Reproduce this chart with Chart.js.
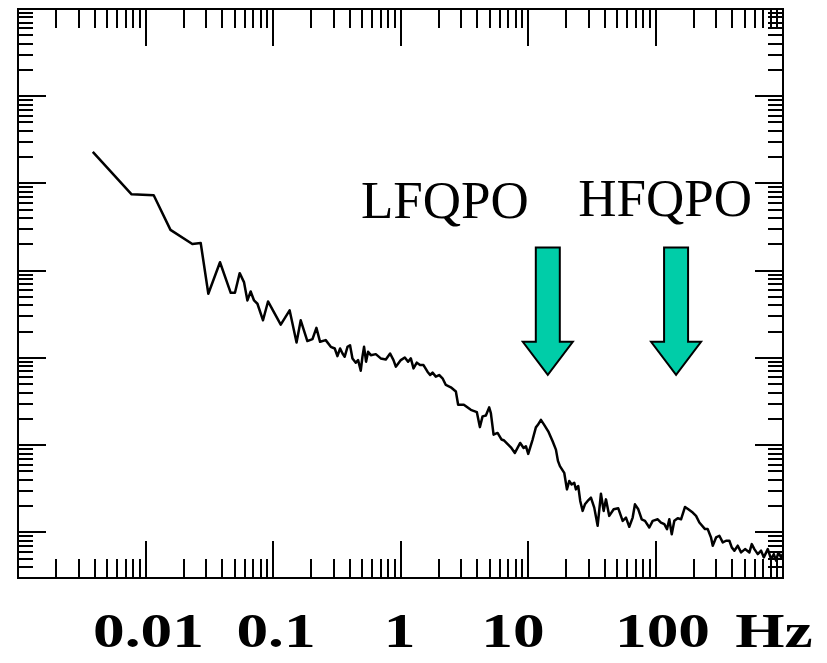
<!DOCTYPE html>
<html>
<head>
<meta charset="utf-8">
<title>Power density spectrum</title>
<script src="https://cdn.jsdelivr.net/npm/chart.js@4.4.1/dist/chart.umd.min.js"></script>
<style>
  html, body { margin: 0; padding: 0; background: #ffffff; }
  #wrap { width: 827px; height: 663px; }
</style>
</head>
<body>
<div id="wrap"><canvas id="psd" width="827" height="663"></canvas></div>
<script>
// Frequency (Hz) of each sample of the power spectrum
const freq = [
  0.00386, 0.00778, 0.0116, 0.0157, 0.0233, 0.0271, 0.0311, 0.0384, 0.0466, 0.0503,
  0.0548, 0.0592, 0.0630, 0.0668, 0.0710, 0.0755, 0.0835, 0.0914, 0.115, 0.135,
  0.153, 0.165, 0.186, 0.204, 0.219, 0.234, 0.259,
  0.284, 0.305, 0.320, 0.336, 0.351, 0.365, 0.384, 0.402, 0.420, 0.446,
  0.465, 0.488, 0.503, 0.518, 0.537, 0.557, 0.585, 0.640, 0.700, 0.767,
  0.829, 0.881, 0.919, 1.006, 1.081, 1.147, 1.205, 1.265, 1.342, 1.425,
  1.515, 1.628, 1.708, 1.784, 1.893, 2.009, 2.136, 2.268, 2.482, 2.718,
  2.832, 3.14, 3.562, 3.972, 4.193, 4.402, 4.673, 4.960, 5.114, 5.370,
  5.772, 6.205, 6.505, 7.341, 7.891, 8.686, 9.237, 9.627, 10.04, 10.87,
  11.53, 11.96, 12.63, 13.40, 14.41, 15.60, 16.56, 17.17, 17.80, 19.24,
  20.20, 21.06, 21.99, 23.05, 23.77, 24.77, 25.68, 26.83, 27.96, 29.36,
  31.16, 33.08, 35.17, 37.34, 39.20, 40.88, 43.38, 46.98, 51.05, 55.27,
  58.67, 62.27, 66.22, 69.03, 73.28, 77.93, 82.72, 89.41, 95.06, 104.1,
  110.4, 117.3, 123.1, 128.3, 134.1, 140.5, 149.4, 158.6, 170.4, 180.9,
  195.9, 208.0, 220.8,
  244.6, 256.8, 272.6, 281.2, 298.5, 316.8, 336.9, 357.6, 379.6, 396.4,
  415.5, 441.8, 469.0, 504.0, 544.9, 569.0, 596.4, 634.2, 673.2, 706.9,
  759.8, 806.6, 847.0, 882.9, 920.4, 966.3, 996.3
];

// Power density at each frequency (arbitrary units)
const power = [
  23.05, 7.51, 7.32, 2.94, 2.02, 2.08, 0.544, 1.25, 0.558, 0.558,
  0.937, 0.740, 0.456, 0.578, 0.456, 0.418, 0.270, 0.444, 0.241, 0.351,
  0.150, 0.270, 0.156, 0.164, 0.221, 0.153, 0.160,
  0.1341, 0.1283, 0.1048, 0.1283, 0.1125, 0.1032, 0.1341, 0.1399, 0.0987, 0.0882,
  0.0944, 0.0714, 0.1032, 0.1341, 0.0905, 0.1177, 0.1076, 0.1105, 0.0987, 0.0961,
  0.1125, 0.0944, 0.0794, 0.0944, 0.1013, 0.0905, 0.0987, 0.0759, 0.0882, 0.0828,
  0.0828, 0.0696, 0.0637, 0.0678, 0.0610, 0.0637, 0.0584, 0.0490, 0.0461, 0.0412,
  0.0290, 0.0290, 0.0254, 0.0239, 0.0161, 0.0214, 0.0219, 0.0271, 0.0233, 0.0132,
  0.0138, 0.0116, 0.0113, 0.00946, 0.00815, 0.0106, 0.00929, 0.00972, 0.00794, 0.0116,
  0.0160, 0.0171, 0.0195, 0.0171, 0.0144, 0.0111, 0.00889, 0.00660, 0.00575, 0.00482,
  0.003110, 0.003877, 0.003545, 0.003707, 0.003110, 0.003399, 0.002293, 0.001763, 0.002097, 0.002293,
  0.002500, 0.001923, 0.001190, 0.002777, 0.001763, 0.002391, 0.001546, 0.001839, 0.001888, 0.001356,
  0.001479, 0.001159, 0.001479, 0.002097, 0.001839, 0.001414, 0.001356, 0.001138, 0.001356, 0.001414,
  0.001297, 0.001241, 0.001088, 0.001414, 0.000954, 0.001356, 0.001452, 0.001414, 0.001958, 0.001839,
  0.001686, 0.001546, 0.001297,
  0.00109, 0.00109, 0.000875, 0.000704, 0.000875, 0.000915, 0.000767, 0.000802, 0.000802, 0.000673,
  0.000617, 0.000704, 0.000590, 0.000643, 0.000590, 0.000734, 0.000643, 0.000564, 0.000617, 0.000517,
  0.000643, 0.000495, 0.000564, 0.000474, 0.000590, 0.000517, 0.000564
];

// Axis ranges
const freqRange = [0.001, 1000];
const powerRange = [0.000324, 1000];

// Frequency tick labels along the bottom
const xTickValues = [0.01, 0.1, 1, 10, 100];
const xTickText = ['0.01', '0.1', '1', '10', '100'];
const unitText = 'Hz';

// Quasi-periodic oscillations marked with arrows
const qpoNames = ['LFQPO', 'HFQPO'];
const qpoFreq = [14.3, 145];

const serif = '"Liberation Serif", "Times New Roman", Times, serif';

// Draws the boxed frame with inward log ticks on all four sides,
// the bold frequency labels, and the QPO arrows with their names.
const spectrumDecor = {
  id: 'spectrumDecor',
  afterDraw(chart, args, opts) {
    const { ctx, chartArea: a } = chart;
    const xs = chart.scales.x, ys = chart.scales.y;
    ctx.save();
    ctx.strokeStyle = '#000';
    ctx.lineWidth = 2;
    ctx.lineCap = 'butt';

    // frame
    ctx.strokeRect(Math.round(a.left), Math.round(a.top),
                   Math.round(a.right - a.left), Math.round(a.bottom - a.top));

    // frequency ticks, bottom and top
    ctx.beginPath();
    for (let d = -3; d <= 3; d++) {
      for (let m = 1; m <= 9; m++) {
        const v = m * Math.pow(10, d);
        if (v < freqRange[0] * 0.999 || v > freqRange[1] * 1.001) continue;
        const px = Math.round(xs.getPixelForValue(v));
        const len = m === 1 ? opts.xMajor : opts.xMinor;
        ctx.moveTo(px, a.bottom); ctx.lineTo(px, a.bottom - len);
        ctx.moveTo(px, a.top);    ctx.lineTo(px, a.top + len);
      }
    }
    // power ticks, left and right
    for (let d = -4; d <= 3; d++) {
      for (let m = 1; m <= 9; m++) {
        const v = m * Math.pow(10, d);
        if (v < powerRange[0] || v > powerRange[1] * 1.001) continue;
        const py = Math.round(ys.getPixelForValue(v));
        const len = m === 1 ? opts.yMajor : opts.yMinor;
        ctx.moveTo(a.left, py);  ctx.lineTo(a.left + len, py);
        ctx.moveTo(a.right, py); ctx.lineTo(a.right - len, py);
      }
    }
    ctx.stroke();

    // bold frequency labels under the axis, drawn wide
    ctx.fillStyle = '#000';
    ctx.font = 'bold 48px ' + serif;
    ctx.textAlign = 'center';
    ctx.textBaseline = 'alphabetic';
    const base = a.bottom + opts.labelDrop;
    const drawWide = (txt, x) => {
      ctx.save();
      ctx.translate(x, base);
      ctx.scale(opts.labelStretch, 1);
      ctx.fillText(txt, 0, 0);
      ctx.restore();
    };
    xTickValues.forEach((v, i) => {
      drawWide(xTickText[i], xs.getPixelForValue(v) + opts.labelNudge[i]);
    });
    drawWide(unitText, a.right + opts.unitNudge);

    // QPO arrows
    qpoFreq.forEach((f) => {
      const cx = xs.getPixelForValue(f);
      const top = ys.getPixelForValue(opts.arrowTop);
      const tip = ys.getPixelForValue(opts.arrowTip);
      const hb = tip - opts.headLen;
      const sw = opts.shaftHalf, hw = opts.headHalf;
      ctx.beginPath();
      ctx.moveTo(cx - sw, top);
      ctx.lineTo(cx + sw, top);
      ctx.lineTo(cx + sw, hb);
      ctx.lineTo(cx + hw, hb);
      ctx.lineTo(cx, tip);
      ctx.lineTo(cx - hw, hb);
      ctx.lineTo(cx - sw, hb);
      ctx.closePath();
      ctx.fillStyle = opts.arrowColor;
      ctx.fill();
      ctx.lineWidth = 2;
      ctx.lineJoin = 'miter';
      ctx.strokeStyle = '#000';
      ctx.stroke();
    });

    // QPO names
    ctx.fillStyle = '#000';
    ctx.font = '53px ' + serif;
    ctx.textAlign = 'center';
    qpoNames.forEach((name, i) => {
      ctx.fillText(name, xs.getPixelForValue(opts.nameFreq[i]),
                   ys.getPixelForValue(opts.namePower[i]));
    });
    ctx.restore();
  }
};

new Chart(document.getElementById('psd'), {
  type: 'line',
  data: {
    datasets: [{
      label: 'Power density',
      data: freq.map((f, i) => ({ x: f, y: power[i] })),
      borderColor: '#000000',
      borderWidth: 2.5,
      borderJoinStyle: 'round',
      pointRadius: 0,
      tension: 0,
      fill: false
    }]
  },
  options: {
    responsive: false,
    animation: false,
    devicePixelRatio: 1,
    layout: { padding: { left: 18, top: 9, right: 44, bottom: 85 } },
    plugins: {
      legend: { display: false },
      tooltip: { enabled: false },
      spectrumDecor: {
        xMajor: 37, xMinor: 19, yMajor: 28, yMinor: 15,
        labelDrop: 69, labelStretch: 1.32,
        labelNudge: [3, 3, -1, -15, 7], unitNudge: -9,
        arrowTop: 1.85, arrowTip: 0.064, headLen: 33, shaftHalf: 12, headHalf: 25,
        arrowColor: '#00CDA8',
        nameFreq: [2.23, 119], namePower: [4.07, 4.25]
      }
    },
    scales: {
      x: { type: 'logarithmic', min: freqRange[0], max: freqRange[1], display: false },
      y: { type: 'logarithmic', min: powerRange[0], max: powerRange[1], display: false }
    }
  },
  plugins: [spectrumDecor]
});
</script>
</body>
</html>
